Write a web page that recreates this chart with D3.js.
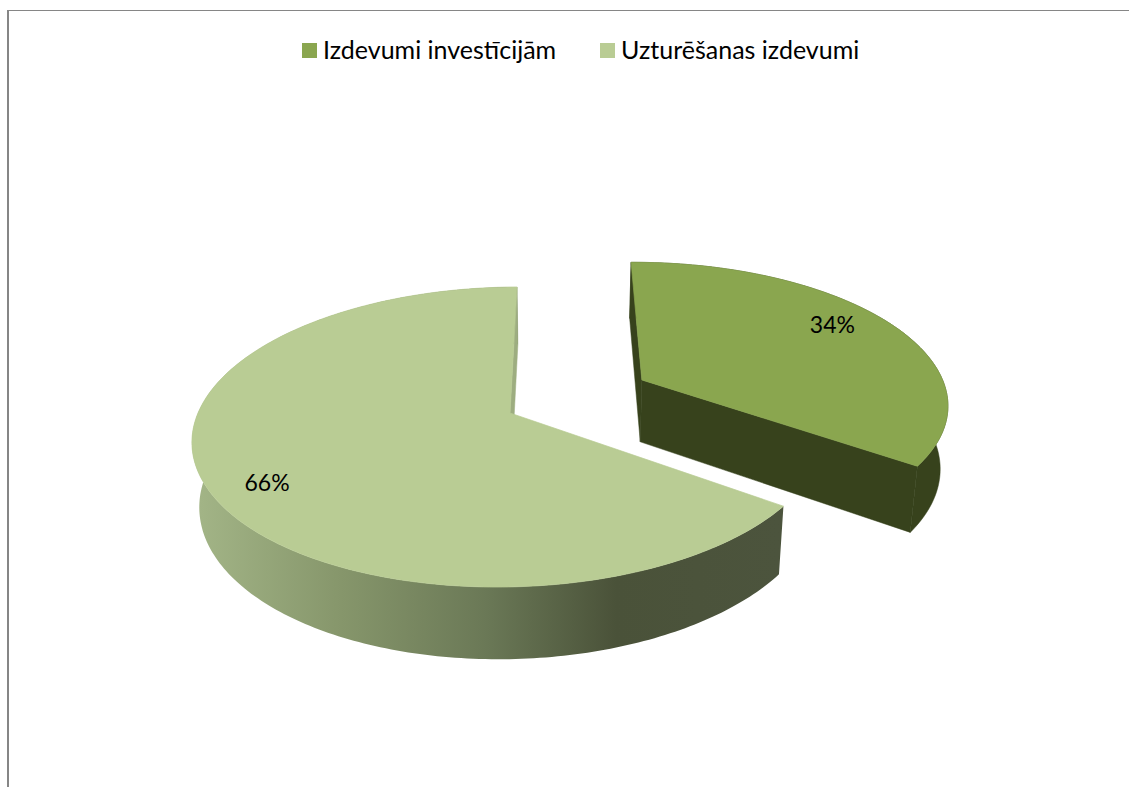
<!DOCTYPE html>
<html><head><meta charset="utf-8">
<script src="https://cdn.jsdelivr.net/npm/d3@7"></script>
<style>html,body{margin:0;padding:0;background:#fff;overflow:hidden}svg{display:block}text{font-family:Lato,"Open Sans",sans-serif;fill:#000}</style>
</head><body>
<script>
const categories = ["Izdevumi investīcijām", "Uzturēšanas izdevumi"];
const values = [34.4, 65.6];
const colors = ["#8AA64F", "#B9CC94"];
const legendX = [302, 600];

const W = 1129, H = 787;
const svg = d3.select("body").append("svg").attr("width", W).attr("height", H);

// view of the tilted disc
const cx = 510, cy = 413, bx = 312, by = 146.2, k = 0.16, shear = -11;
const explode = 0.49, rotation = -0.5;
const warp = 2.4 * Math.PI / 180;
const rad = d => d * Math.PI / 180;
function project(X, Y, low) {
  const s = 1 / (1 - k * Y);
  let x = cx + (bx * X + shear * Y) * s, y = cy + by * Y * s;
  if (low) { x = cx + (x - cx) * 0.98 + 1; y = y + 63.5 + 0.05 * (y - cy); }
  return [x, y];
}
const pie = d3.pie().sort(null).value(d => d).startAngle(rad(rotation)).endAngle(rad(rotation + 360));
const arcs = pie(values);
const line = d3.line();
const ang = (a0, a1) => { const n = Math.ceil((a1 - a0) * 180 / Math.PI); return d3.range(n + 1).map(i => a0 + (a1 - a0) * i / n); };

const defs = svg.append("defs");
const g = defs.append("linearGradient").attr("id", "wall").attr("gradientUnits", "userSpaceOnUse")
  .attr("x1", 195).attr("x2", 780).attr("y1", 0).attr("y2", 0);
[[0, "#A3B587"], [0.25, "#86966B"], [0.5, "#6A7856"], [0.72, "#4A5239"], [1, "#4C543D"]]
  .forEach(s => g.append("stop").attr("offset", s[0]).attr("stop-color", s[1]));

svg.append("path").attr("d", line([[8, H], [8, 10.5], [W, 10.5]])).attr("fill", "none").attr("stroke", "#868686").attr("stroke-width", 1);
svg.append("line").attr("x1", 8).attr("x2", 8).attr("y1", 10).attr("y2", H).attr("stroke", "#868686").attr("stroke-width", 2);

const wallFill = ["#37421C", "url(#wall)"];
const innerFill = ["#37421C", "#9DAD80"];
const labelTurn = [-5.4, -1.4], labelRadius = [0.813, 0.835];

[1, 0].forEach(i => {
  const a = arcs[i];
  const mid = (a.startAngle + a.endAngle) / 2;
  const ox = i === 0 ? explode * Math.sin(mid) : 0;
  const oy = i === 0 ? -explode * Math.cos(mid) : 0;
  const pt = (t, low, r = 1) => {
    const w = t + warp * Math.sin(t);
    return project(ox + r * Math.sin(w), oy - r * Math.cos(w), low);
  };
  const as = ang(a.startAngle, a.endAngle);
  const apex = project(ox, oy, false), apexL = project(ox, oy, true);
  const node = svg.append("g").attr("class", "slice");
  const wall = node.append("path")
    .attr("d", line(as.map(t => pt(t, false)).concat(as.slice().reverse().map(t => pt(t, true)))) + "Z")
    .attr("fill", wallFill[i]);
  if (i === 0) wall.attr("stroke", wallFill[0]).attr("stroke-width", 0.5);
  // cut faces seen from the camera: the big slice only shows the one at its end
  (i === 0 ? [a.startAngle, a.endAngle] : [a.endAngle]).forEach(t => {
    node.append("path")
      .attr("d", line([apex, pt(t, false), pt(t, true), apexL]) + "Z")
      .attr("fill", innerFill[i]).attr("stroke", innerFill[i]).attr("stroke-width", 0.5);
  });
  node.append("path")
    .attr("d", line([apex].concat(as.map(t => pt(t, false)))) + "Z")
    .attr("fill", colors[i]).attr("stroke", colors[i]).attr("stroke-width", 0.7);
  const lp = pt(mid + rad(labelTurn[i]), false, labelRadius[i]);
  node.append("text").attr("x", lp[0]).attr("y", lp[1] + 8)
    .attr("text-anchor", "middle").attr("font-size", 23)
    .text(d3.format(".0f")(a.value) + "%");
});

const lg = svg.append("g").selectAll("g").data(categories).join("g");
lg.append("rect").attr("x", (d, i) => legendX[i]).attr("y", 43).attr("width", 15).attr("height", 15)
  .attr("fill", (d, i) => colors[i]);
lg.append("text").attr("x", (d, i) => legendX[i] + 21).attr("y", 58.5)
  .attr("font-size", 25).text(d => d);
</script>
</body></html>
